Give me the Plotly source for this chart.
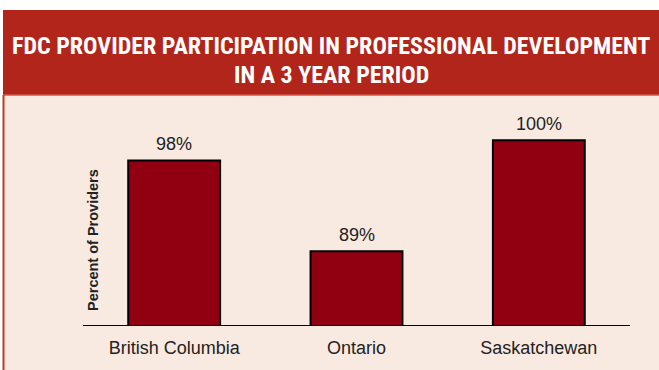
import plotly.graph_objects as go

categories = ["British Columbia", "Ontario", "Saskatchewan"]
values = [98, 89, 100]
value_labels = ["98%", "89%", "100%"]
title_line1 = "FDC PROVIDER PARTICIPATION IN PROFESSIONAL DEVELOPMENT"
title_line2 = "IN A 3 YEAR PERIOD"
y_title = "Percent&nbsp;of&nbsp;Providers"

W, H = 659, 370
ML, MR, MT, MB = 83, 29, 118, 45
PW = W - ML - MR
PH = H - MT - MB

def px(x):
    return (x - ML) / PW

def py(y):
    return (H - MB - y) / PH

BAR = "#910010"
HEADER = "#B2251A"
PINK = "#F9EAE1"
TEXT = "#222222"

fig = go.Figure()
fig.add_trace(go.Bar(
    x=categories, y=values,
    marker=dict(color=BAR, line=dict(color="#000000", width=2)),
    width=0.504,
    hoverinfo="skip",
))

annotations = []
for c, v, t in zip(categories, values, value_labels):
    annotations.append(dict(x=c, y=v, xref="x", yref="y", text=t, showarrow=False,
                            yanchor="bottom", yshift=4,
                            font=dict(family="Liberation Sans, Arial, sans-serif", size=18, color=TEXT)))

title_font = dict(family="Roboto Condensed, Roboto, sans-serif", size=24, color="white")
annotations.append(dict(x=px(331), y=py(46), xref="paper", yref="paper", text="<b>" + title_line1 + "</b>",
                        showarrow=False, xanchor="center", yanchor="middle", font=title_font))
annotations.append(dict(x=px(331), y=py(75), xref="paper", yref="paper", text="<b>" + title_line2 + "</b>",
                        showarrow=False, xanchor="center", yanchor="middle", font=title_font))
annotations.append(dict(x=px(93), y=py(240), xref="paper", yref="paper", text="<b>" + y_title + "</b>",
                        showarrow=False, textangle=-90, xanchor="center", yanchor="middle",
                        font=dict(family="Liberation Sans, Arial, sans-serif", size=14.5, color=TEXT)))

shapes = [
    dict(type="rect", xref="paper", yref="paper", x0=px(3), x1=px(W), y0=py(95), y1=py(H + 5),
         fillcolor=PINK, line=dict(width=0), layer="below"),
    dict(type="rect", xref="paper", yref="paper", x0=px(3), x1=px(W), y0=py(95), y1=py(10),
         fillcolor=HEADER, line=dict(width=0), layer="below"),
    dict(type="line", xref="paper", yref="paper", x0=px(3), x1=px(W), y0=py(95), y1=py(95),
         line=dict(color="#D2574B", width=1.5), layer="below"),
    dict(type="line", xref="paper", yref="paper", x0=px(3.5), x1=px(3.5), y0=py(95), y1=py(H + 5),
         line=dict(color="#C0392B", width=2), layer="below"),
]

fig.update_layout(
    width=W, height=H,
    margin=dict(l=ML, r=MR, t=MT, b=MB),
    paper_bgcolor="white",
    plot_bgcolor="rgba(0,0,0,0)",
    showlegend=False,
    annotations=annotations,
    shapes=shapes,
    xaxis=dict(showline=True, linecolor="#000000", linewidth=1, ticks="", showgrid=False,
               tickfont=dict(family="Liberation Sans, Arial, sans-serif", size=18, color=TEXT),
               ticklabelstandoff=6, range=[-0.5, 2.5], fixedrange=True),
    yaxis=dict(range=[81.7, 102.2], showticklabels=False, showgrid=False, zeroline=False,
               showline=False, ticks="", fixedrange=True),
)

fig.write_html("out.html", config={"displayModeBar": False})
